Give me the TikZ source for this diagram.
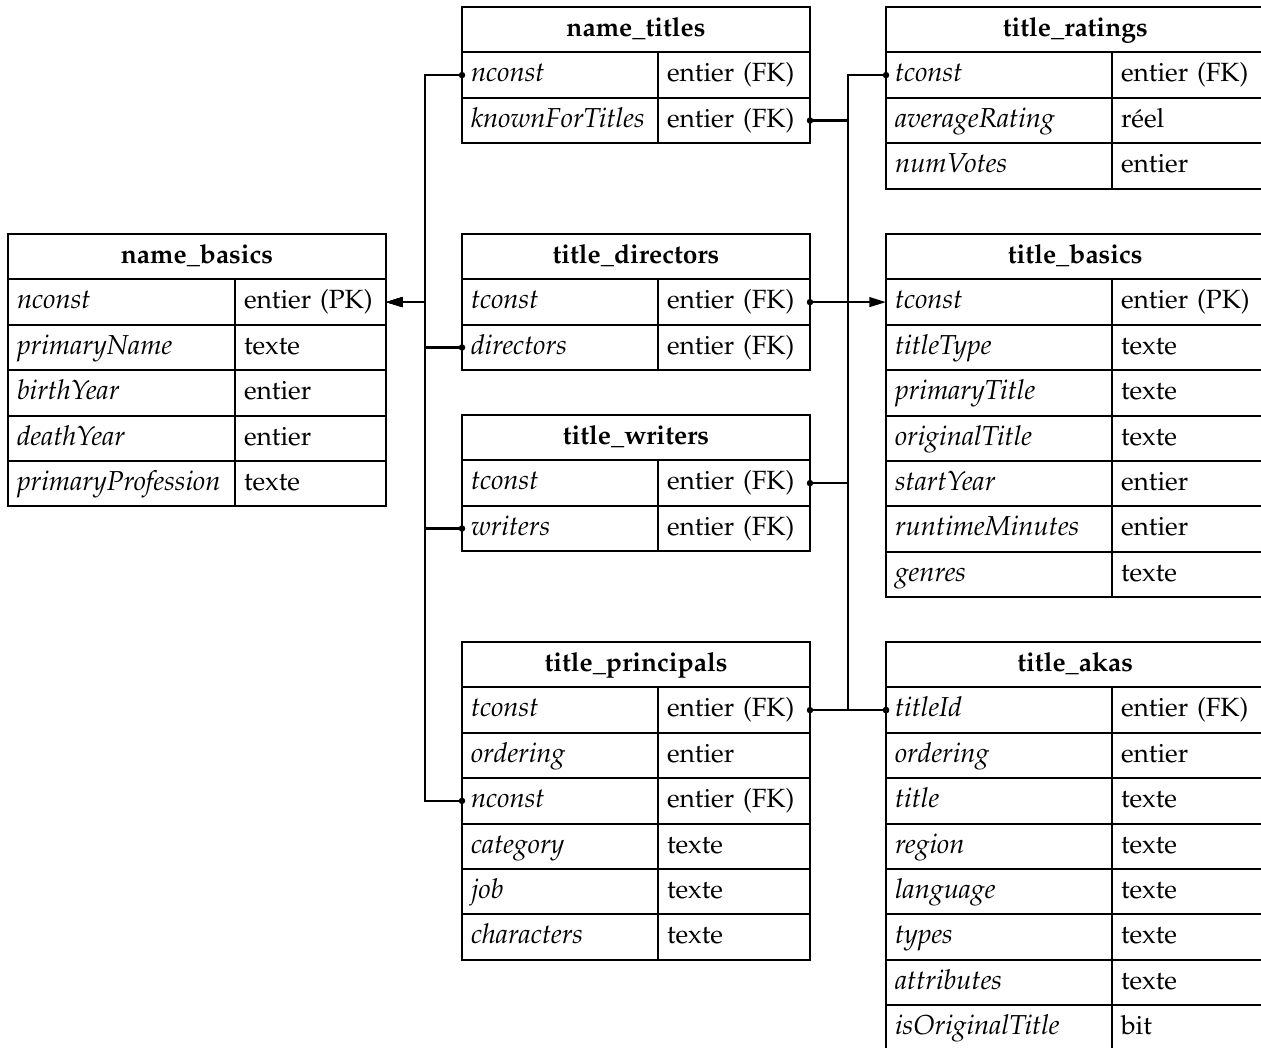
\documentclass[tikz,border=0pt]{standalone}
\usepackage[T1]{fontenc}
\usepackage{mathpazo}
\usepackage{tikz}
\usetikzlibrary{arrows.meta, calc}
\newcommand{\tabfont}{\fontsize{15}{18}\selectfont}
\newcommand{\fldfont}{\fontsize{15.6}{18}\selectfont\itshape}
\newcommand{\rowh}{0.908cm}
% #1 name, #2 north west corner, #3 field width, #4 type width, #5 title, #6 rows
\newcommand{\dbtable}[6]{%
  \node[tabhead, minimum width=#3+#4, anchor=north west] (#1) at #2 {#5};
  \foreach \fld/\typ [count=\i] in {#6} {
    \node[fldcell, minimum width=#3, text width=#3-0.36cm, anchor=north west]
      (#1-f\i) at ($(#1.south west)+(0,{-(\i-1)*\rowh})$) {\fld};
    \node[typcell, minimum width=#4, text width=#4-0.36cm, anchor=north west]
      (#1-t\i) at (#1-f\i.north east) {\mbox{\typ}};
  }%
}

\begin{document}
\begin{tikzpicture}[
  cell/.style={draw, line width=1.1pt, inner xsep=0.18cm, inner ysep=0pt, outer sep=0pt,
               minimum height=\rowh, text height=2.45ex, text depth=0.8ex},
  tabhead/.style={cell, align=center, font=\tabfont\bfseries},
  fldcell/.style={cell, align=left, font=\fldfont},
  typcell/.style={cell, align=left, font=\tabfont},
  link/.style={line width=1.2pt},
  dotdot/.style={{Circle[length=3.6pt]}-{Circle[length=3.6pt]}, shorten <=-1.8pt, shorten >=-1.8pt},
  dotline/.style={{Circle[length=3.6pt]}-, shorten <=-1.8pt},
  dottri/.style={{Circle[length=3.6pt]}-{Triangle[length=9.5pt, width=5.5pt]}, shorten <=-1.8pt},
  tridot/.style={{Triangle[length=9.5pt, width=5.5pt]}-{Circle[length=3.6pt]}, shorten >=-1.8pt},
]
\useasboundingbox (0,0) rectangle (25.22,-20.96);

% ===================== name tables =====================
\dbtable{nb}{(0.16,-4.68)}{4.54cm}{3.02cm}{name\_basics}
  {nconst/entier (PK), primaryName/texte, birthYear/entier, deathYear/entier, primaryProfession/texte}
\dbtable{nt}{(9.24,-0.14)}{3.92cm}{3.04cm}{name\_titles}
  {nconst/entier (FK), knownForTitles/entier (FK)}

% ===================== link tables =====================
\dbtable{td}{(9.24,-4.68)}{3.92cm}{3.04cm}{title\_directors}
  {tconst/entier (FK), directors/entier (FK)}
\dbtable{tw}{(9.24,-8.30)}{3.92cm}{3.04cm}{title\_writers}
  {tconst/entier (FK), writers/entier (FK)}
\dbtable{tp}{(9.24,-12.84)}{3.92cm}{3.04cm}{title\_principals}
  {tconst/entier (FK), ordering/entier, nconst/entier (FK), category/texte, job/texte, characters/texte}

% ===================== title tables =====================
\dbtable{tr}{(17.72,-0.14)}{4.52cm}{3.05cm}{title\_ratings}
  {tconst/entier (FK), averageRating/r\'eel, numVotes/entier}
\dbtable{tb}{(17.72,-4.68)}{4.52cm}{3.05cm}{title\_basics}
  {tconst/entier (PK), titleType/texte, primaryTitle/texte, originalTitle/texte,
   startYear/entier, runtimeMinutes/entier, genres/texte}
\dbtable{ta}{(17.72,-12.84)}{4.52cm}{3.05cm}{title\_akas}
  {titleId/entier (FK), ordering/entier, title/texte, region/texte, language/texte,
   types/texte, attributes/texte, isOriginalTitle/bit}

% ===================== keys =====================
\coordinate (lbus) at (8.50,0);
\coordinate (rbus) at (16.96,0);
\foreach \dst in {nt-f1, td-f2, tw-f2, tp-f3}
  \draw[link, tridot] (nb-t1.east) -- (lbus |- nb-t1.east) |- (\dst.west);

\draw[link, dotdot] (tr-f1.west) -- (rbus |- tr-f1.west) |- (ta-f1.west);
\draw[link, dotline] (nt-t2.east) -- (rbus |- nt-t2.east);
\draw[link, dotline] (tw-t1.east) -- (rbus |- tw-t1.east);
\draw[link, dottri] (td-t1.east) -- (tb-f1.west);
\draw[link, dotdot] (tp-t1.east) -- (ta-f1.west);
\end{tikzpicture}
\end{document}
